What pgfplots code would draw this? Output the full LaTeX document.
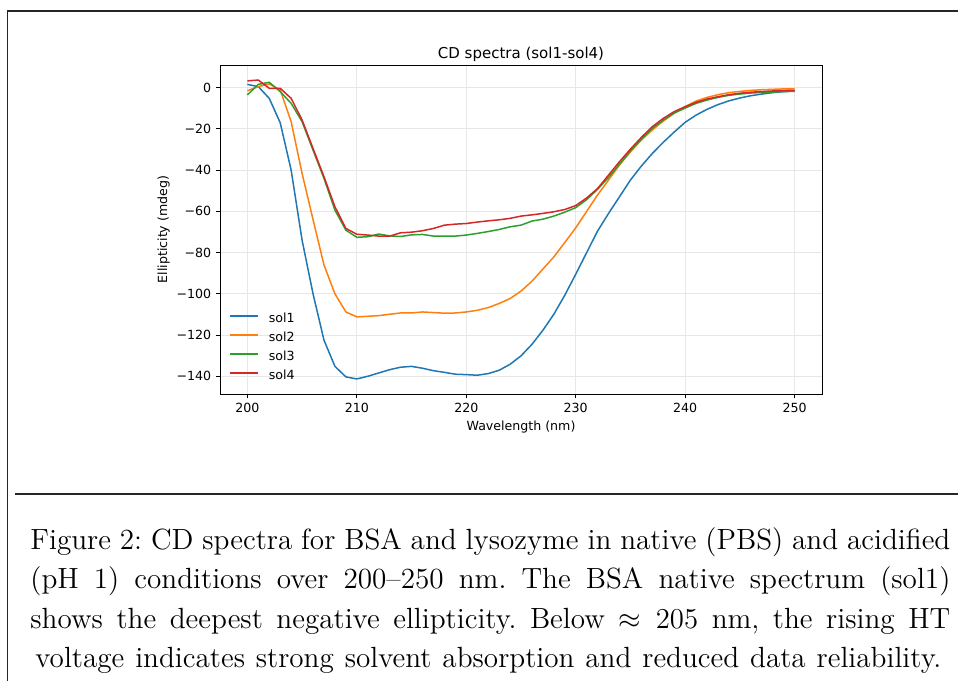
\documentclass[border=0pt]{standalone}
\usepackage{fontspec}
\usepackage{pgfplots}
\usepackage{pgfplotstable}
\pgfplotsset{compat=1.18}
\newfontfamily\dejavu{DejaVu Sans}
\definecolor{c0}{HTML}{1F77B4}
\definecolor{c1}{HTML}{FF7F0E}
\definecolor{c2}{HTML}{2CA02C}
\definecolor{c3}{HTML}{D62728}
\definecolor{gridgray}{RGB}{231,231,231}

% CD spectra, ellipticity (mdeg) per wavelength (nm)
\pgfplotstableread{
wl   s1      s2      s3     s4
200  1.6    -1.5    -3.5    3.3
201  0.5     0.5     1.6    3.7
202 -5.2     1.8     2.6   -0.3
203 -17.0   -1.1    -1.9   -0.3
204 -40.0   -16.5   -7.6   -5.2
205 -74.0   -41.6   -16.5  -15.7
206 -100.0  -64.0   -30.3  -29.5
207 -122.5  -86.0   -44.0  -43.2
208 -135.2  -100.0  -59.4  -57.8
209 -140.3  -108.8  -69.1  -68.3
210 -141.3  -111.2  -72.6  -71.1
211 -140.0  -110.9  -72.3  -71.5
212 -138.4  -110.6  -71.0  -72.0
213 -136.8  -109.9  -71.9  -72.0
214 -135.6  -109.3  -72.2  -70.4
215 -135.2  -109.3  -71.4  -70.1
216 -136.1  -108.8  -71.2  -69.4
217 -137.3  -109.1  -72.0  -68.3
218 -138.1  -109.4  -72.0  -66.7
219 -139.0  -109.3  -72.0  -66.2
220 -139.2  -108.8  -71.5  -65.9
221 -139.5  -108.0  -70.7  -65.2
222 -138.7  -106.7  -69.8  -64.6
223 -137.1  -104.7  -68.8  -64.1
224 -134.2  -102.3  -67.5  -63.4
225 -130.1  -98.7   -66.7  -62.3
226 -124.5  -93.9   -64.7  -61.7
227 -117.7  -88.0   -63.8  -61.0
228 -109.9  -82.1   -62.3  -60.2
229 -100.7  -75.1   -60.4  -59.1
230 -90.5   -68.0   -58.2  -57.2
231 -80.0   -60.0   -54.3  -53.5
232 -69.5   -52.0   -49.3  -48.9
233 -61.0   -44.8   -43.5  -42.4
234 -52.9   -37.5   -37.1  -35.9
235 -44.8   -31.1   -30.7  -29.8
236 -38.0   -25.4   -24.9  -24.1
237 -31.9   -20.5   -19.7  -18.9
238 -26.5   -16.2   -15.7  -14.9
239 -21.5   -12.4   -12.3  -11.6
240 -16.8   -9.2    -9.9   -9.2
241 -13.3   -6.5    -7.6   -7.1
242 -10.5   -4.7    -6.0   -5.5
243 -8.2    -3.4    -4.7   -4.4
244 -6.4    -2.4    -3.7   -3.4
245 -5.0    -1.8    -3.1   -2.7
246 -3.9    -1.3    -2.6   -2.2
247 -3.1    -1.0    -2.3   -1.9
248 -2.4    -0.8    -2.1   -1.6
249 -1.9    -0.6    -1.9   -1.4
250 -1.6    -0.6    -1.8   -1.3
}\cdspectra

\begin{document}
\begin{tikzpicture}[x=0.5pt,y=0.5pt]
\useasboundingbox (0,0) rectangle (958,680);
% page frame and rule
\draw[line width=0.75pt,black!85] (7.5,-20) -- (7.5,669) -- (980,669);
\draw[line width=0.75pt,black!85] (15,186) -- (980,186);

\begin{axis}[
    at={(110pt,143pt)}, anchor=south west,
    scale only axis,
    width=301pt, height=164.5pt,
    xmin=197.5, xmax=252.5,
    ymin=-148.6, ymax=11.0,
    axis line style={line width=0.45pt},
    tick pos=left,
    tick align=outside,
    major tick length=2.1pt,
    tick style={line width=0.4pt, black},
    xtick={200,210,220,230,240,250},
    xticklabels={200,210,220,230,240,250},
    ytick={-140,-120,-100,-80,-60,-40,-20,0},
    yticklabels={−140,−120,−100,−80,−60,−40,−20,0},
    /pgf/number format/assume math mode=true,
    ticklabel style={font=\dejavu\fontsize{6.3}{7}\selectfont, inner sep=0pt},
    xticklabel style={anchor=north, yshift=-2.1pt},
    yticklabel style={anchor=east, xshift=-2.1pt},
    grid=major,
    major grid style={gridgray, line width=0.5pt},
    title={CD spectra (sol1-sol4)},
    title style={font=\dejavu\fontsize{7.5}{8}\selectfont, inner sep=0pt,
        at={(axis description cs:0.5,1)}, anchor=base, yshift=-2.9pt},
    xlabel={Wavelength (nm)},
    xlabel style={font=\dejavu\fontsize{6.3}{7}\selectfont, inner sep=0pt,
        at={(axis description cs:0.5,0)}, anchor=base, yshift=-18.5pt},
    ylabel={Ellipticity (mdeg)},
    ylabel style={font=\dejavu\fontsize{6.3}{7}\selectfont, inner sep=0pt,
        at={(axis description cs:-0.088,0.5)}, anchor=base},
    legend style={at={(axis cs:198.3,-107.7)}, anchor=north west,
        draw=none, fill=none, inner sep=0pt, outer sep=0pt,
        font=\dejavu\fontsize{6.3}{7}\selectfont,
        row sep=0pt, column sep=5pt,
        nodes={inner sep=0pt, text height=6.5pt, text depth=3pt}},
    legend cell align=left,
    legend image code/.code={\draw[#1, line width=1pt] (0pt,1.75pt) -- (14pt,1.75pt);},
    every axis plot/.append style={line width=0.75pt},
]
\addplot[c0] table[x=wl,y=s1]{\cdspectra};
\addplot[c1] table[x=wl,y=s2]{\cdspectra};
\addplot[c2] table[x=wl,y=s3]{\cdspectra};
\addplot[c3] table[x=wl,y=s4]{\cdspectra};
\legend{sol1,sol2,sol3,sol4}
\end{axis}

% caption
\begin{scope}[every node/.style={inner sep=0pt, anchor=base west, font=\fontsize{14.6}{19.5}\selectfont\frenchspacing}]
\node at (30,130) {\makebox[460pt][s]{Figure 2: CD spectra for BSA and lysozyme in native (PBS) and acidified}};
\node at (30,91) {\makebox[460pt][s]{(pH 1) conditions over 200–250 nm. The BSA native spectrum (sol1)}};
\node at (30,52) {\makebox[460pt][s]{shows the deepest negative ellipticity. Below $\approx 205$ nm, the rising HT}};
\node at (35,13) {\makebox[453pt][s]{voltage indicates strong solvent absorption and reduced data reliability.}};
\end{scope}
\end{tikzpicture}
\end{document}
